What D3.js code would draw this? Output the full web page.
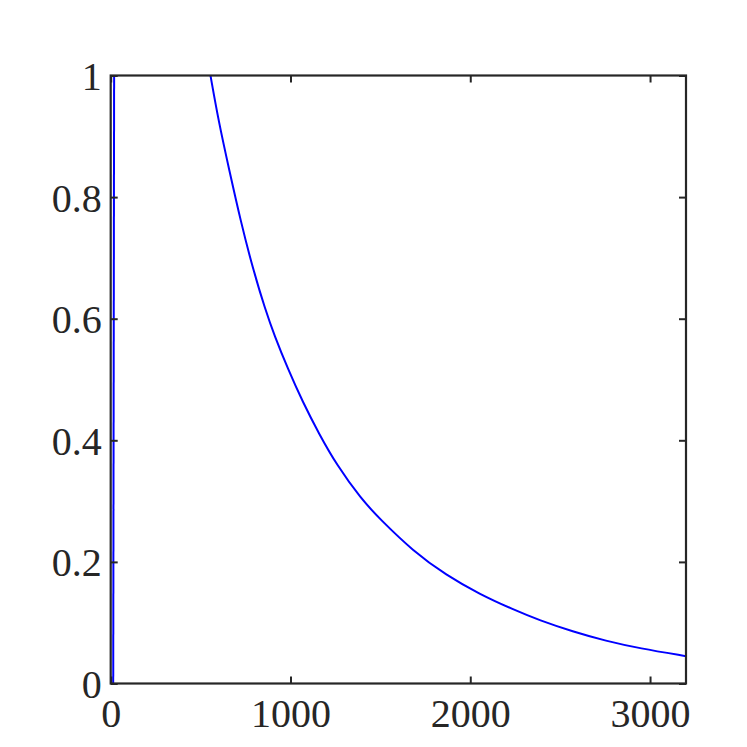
<!DOCTYPE html>
<html>
<head>
<meta charset="utf-8">
<script src="https://cdn.jsdelivr.net/npm/d3@7"></script>
<style>
  html, body { margin: 0; padding: 0; background: #fff; }
  svg text { font-family: "Liberation Serif", "DejaVu Serif", serif; }
</style>
</head>
<body>
<svg id="chart" width="747" height="747"></svg>
<script>
// Data
const risingX = [14, 19];
const risingY = [0, 1];
const decayX = [555, 600, 659, 725, 792, 860, 911, 985, 1068, 1160, 1256, 1394, 1496, 1681, 1867, 2052, 2237, 2385, 2570, 2755, 2940, 3200];
const decayY = [1.0, 0.925, 0.845, 0.758, 0.681, 0.615, 0.572, 0.518, 0.463, 0.410, 0.360, 0.303, 0.271, 0.218, 0.178, 0.147, 0.122, 0.104, 0.0855, 0.0700, 0.0579, 0.045];
const xTicks = [0, 1000, 2000, 3000];
const yTicks = [0, 0.2, 0.4, 0.6, 0.8, 1];
const yTickLabels = ["0", "0.2", "0.4", "0.6", "0.8", "1"];

(function () {
const mLeft = 110.7, mRight = 686, mTop = 75.5, mBottom = 683.5;
const axisColor = "#262626";
const svg = d3.select("#chart");

const x = d3.scaleLinear().domain([0, 3200]).range([mLeft, mRight]);
const y = d3.scaleLinear().domain([0, 1]).range([mBottom, mTop]);

const clipId = "plotclip";
svg.append("defs").append("clipPath").attr("id", clipId)
  .append("rect").attr("x", mLeft).attr("y", mTop).attr("width", mRight - mLeft).attr("height", mBottom - mTop);

const line = d3.line().x(d => x(d[0])).y(d => y(d[1]));
const g = svg.append("g").attr("clip-path", `url(#${clipId})`);
g.append("path").datum(d3.zip(risingX, risingY)).attr("d", line)
  .attr("fill", "none").attr("stroke", "#0000ff").attr("stroke-width", 2);
g.append("path").datum(d3.zip(decayX, decayY)).attr("d", line.curve(d3.curveBasis))
  .attr("fill", "none").attr("stroke", "#0000ff").attr("stroke-width", 2);

const tickLen = 7;
const fontSize = 40;

const xb = svg.append("g").attr("transform", `translate(0,${mBottom})`)
  .call(d3.axisBottom(x).tickValues(xTicks).tickSize(-tickLen).tickPadding(tickLen + 8).tickFormat(d3.format("d")));
const xt = svg.append("g").attr("transform", `translate(0,${mTop})`)
  .call(d3.axisTop(x).tickValues(xTicks).tickSize(-tickLen).tickFormat(""));
const yl = svg.append("g").attr("transform", `translate(${mLeft},0)`)
  .call(d3.axisLeft(y).tickValues(yTicks).tickSize(-tickLen).tickPadding(tickLen + 2)
    .tickFormat((d, i) => yTickLabels[i]));
const yr = svg.append("g").attr("transform", `translate(${mRight},0)`)
  .call(d3.axisRight(y).tickValues(yTicks).tickSize(-tickLen).tickFormat(""));

[xb, xt, yl, yr].forEach(a => {
  a.select(".domain").remove();
  a.selectAll(".tick line").attr("stroke", axisColor).attr("stroke-width", 2);
  a.selectAll(".tick text").attr("fill", axisColor).style("font-size", fontSize + "px")
    .style("font-family", "'Liberation Serif', serif");
});
xb.selectAll(".tick text").attr("dy", "0.72em");
yl.selectAll(".tick text").attr("dy", "0.35em");

svg.append("rect").attr("x", mLeft).attr("y", mTop).attr("width", mRight - mLeft).attr("height", mBottom - mTop)
  .attr("fill", "none").attr("stroke", axisColor).attr("stroke-width", 2.2);
})();
</script>
</body>
</html>
